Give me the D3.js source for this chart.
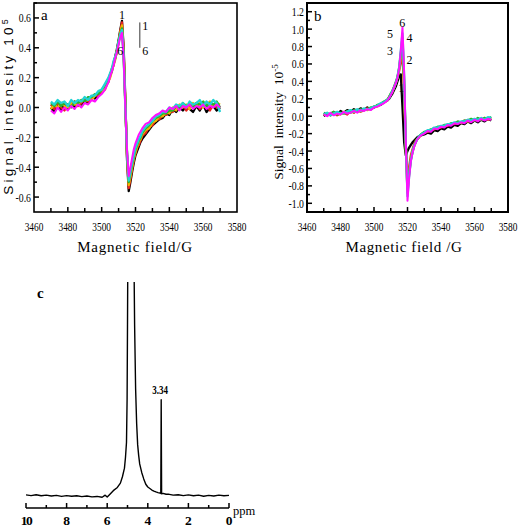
<!DOCTYPE html>
<html><head><meta charset="utf-8">
<script src="https://cdn.jsdelivr.net/npm/d3@7"></script>
<style>body{margin:0;background:#fff}svg{display:block}</style>
</head><body>
<script>
// ---------- DATA ----------
const seriesNames = ["1","2","3","4","5","6"];
const seriesColors = ["#000000","#e8231e","#f0b400","#2bb02b","#22d3d3","#ff10ff"];

const fieldsA = [3470,3472,3474,3476,3478,3480,3482,3484,3486,3488,3490,3492,3494,3496,3498,3500,3502,3504,
 3505,3506,3507,3508,3509,3510,3511,3512,3513,3514,3515,3516,3517,3518,3519,3520,3521,3522,3523,3524,
 3526,3528,3530,3532,3534,3536,3538,3540,3542,3544,3546,3548,3550,3552,3554,3556,3558,3560,3562,3564,3566,3568,3570];
const a1 = [0.00,-0.03,0.01,-0.02,0.02,-0.01,0.03,0.00,0.04,0.02,0.05,0.03,0.07,0.06,0.09,0.10,0.13,0.18,
 0.22,0.25,0.29,0.34,0.39,0.45,0.52,0.58,0.40,0.05,-0.35,-0.56,-0.50,-0.43,-0.37,-0.32,-0.29,-0.26,-0.23,-0.21,
 -0.18,-0.15,-0.12,-0.10,-0.08,-0.07,-0.04,-0.05,-0.01,-0.03,0.00,-0.02,0.01,-0.01,-0.03,0.01,-0.02,0.02,-0.03,0.00,0.01,-0.02,0.00];
const a2 = [0.02,-0.01,0.03,0.00,-0.02,0.02,0.01,0.04,0.01,0.03,0.06,0.04,0.06,0.08,0.08,0.11,0.14,0.17,
 0.21,0.26,0.28,0.33,0.38,0.44,0.51,0.57,0.38,0.03,-0.33,-0.54,-0.48,-0.41,-0.35,-0.31,-0.27,-0.25,-0.22,-0.19,
 -0.17,-0.13,-0.12,-0.08,-0.08,-0.05,-0.05,-0.02,-0.03,0.01,-0.01,0.02,-0.02,0.01,0.00,0.03,-0.01,0.01,0.02,-0.02,0.02,0.00,0.01];
const a3 = [-0.01,0.02,0.00,0.03,0.01,0.00,0.03,0.02,0.02,0.05,0.04,0.06,0.05,0.08,0.10,0.11,0.12,0.18,
 0.20,0.24,0.29,0.32,0.38,0.43,0.50,0.55,0.36,0.02,-0.32,-0.52,-0.46,-0.40,-0.34,-0.30,-0.26,-0.23,-0.21,-0.18,
 -0.15,-0.14,-0.10,-0.09,-0.06,-0.06,-0.03,-0.04,0.00,-0.02,0.02,0.00,0.02,-0.01,0.03,0.01,0.03,0.00,0.02,0.04,0.01,0.03,0.02];
const a4 = [0.03,0.01,0.04,0.01,0.03,0.02,0.00,0.04,0.03,0.05,0.04,0.07,0.07,0.09,0.09,0.12,0.15,0.19,
 0.22,0.24,0.30,0.33,0.37,0.44,0.49,0.53,0.35,0.01,-0.31,-0.50,-0.44,-0.38,-0.33,-0.28,-0.25,-0.22,-0.20,-0.17,
 -0.14,-0.12,-0.09,-0.07,-0.06,-0.04,-0.04,-0.02,-0.02,0.01,0.00,0.03,0.01,0.02,0.00,0.03,0.02,0.04,0.01,0.03,0.02,0.04,0.00];
const a5 = [0.04,0.02,0.05,0.03,0.04,0.01,0.05,0.03,0.05,0.04,0.07,0.05,0.08,0.08,0.11,0.12,0.16,0.20,
 0.23,0.26,0.31,0.34,0.38,0.44,0.49,0.52,0.34,0.00,-0.30,-0.49,-0.43,-0.37,-0.32,-0.27,-0.24,-0.21,-0.19,-0.16,
 -0.13,-0.11,-0.09,-0.06,-0.05,-0.03,-0.03,0.00,-0.01,0.02,0.01,0.03,0.00,0.04,0.02,0.03,0.05,0.01,0.04,0.02,0.05,0.03,-0.03];
const a6 = [-0.02,-0.04,0.00,-0.03,0.00,-0.02,0.01,-0.01,0.02,0.00,0.03,0.02,0.05,0.04,0.07,0.09,0.12,0.17,
 0.21,0.24,0.28,0.33,0.37,0.42,0.47,0.50,0.33,0.00,-0.29,-0.46,-0.40,-0.34,-0.28,-0.24,-0.21,-0.18,-0.16,-0.14,
 -0.11,-0.10,-0.07,-0.05,-0.04,-0.02,-0.03,0.00,-0.01,0.01,-0.02,0.01,0.00,0.02,-0.01,0.01,0.00,0.02,-0.01,0.01,0.00,0.02,0.00];

const fieldsB = [3470,3472,3474,3476,3478,3480,3482,3484,3486,3488,3490,3492,3494,3496,3498,3500,3502,3504,3506,3508,
 3509,3510,3511,3512,3513,3514,3515,3516,3517,3518,3519,3520,3521,3522,3523,3524,3525,3526,3527,3528,
 3530,3532,3534,3536,3538,3540,3542,3544,3546,3548,3550,3552,3554,3556,3558,3560,3562,3564,3566,3568,3570];
const b1 = [0.00,0.03,0.01,0.05,0.02,0.06,0.04,0.07,0.05,0.08,0.06,0.09,0.07,0.10,0.08,0.11,0.12,0.13,0.16,0.18,
 0.20,0.23,0.26,0.30,0.34,0.40,0.46,0.48,0.10,-0.30,-0.45,-0.40,-0.36,-0.33,-0.30,-0.28,-0.26,-0.24,-0.23,-0.22,
 -0.21,-0.19,-0.20,-0.16,-0.17,-0.14,-0.15,-0.12,-0.13,-0.10,-0.11,-0.08,-0.09,-0.06,-0.08,-0.05,-0.07,-0.04,-0.06,-0.03,-0.05];
const b2 = [0.03,0.01,0.02,0.04,0.01,0.03,0.04,0.02,0.06,0.04,0.07,0.05,0.07,0.09,0.08,0.10,0.12,0.14,0.16,0.19,
 0.22,0.25,0.29,0.33,0.38,0.44,0.52,0.62,0.70,0.30,-0.35,-0.75,-0.58,-0.45,-0.38,-0.32,-0.28,-0.26,-0.24,-0.21,
 -0.19,-0.18,-0.16,-0.15,-0.13,-0.13,-0.11,-0.11,-0.09,-0.09,-0.07,-0.08,-0.05,-0.06,-0.04,-0.05,-0.03,-0.04,-0.02,-0.04,-0.03];
const b3 = [0.01,0.03,0.02,0.03,0.04,0.02,0.05,0.04,0.05,0.05,0.06,0.06,0.08,0.07,0.09,0.11,0.11,0.14,0.16,0.18,
 0.22,0.25,0.28,0.33,0.38,0.44,0.54,0.68,0.80,0.35,-0.35,-0.85,-0.64,-0.49,-0.40,-0.34,-0.29,-0.26,-0.24,-0.21,
 -0.19,-0.17,-0.16,-0.14,-0.13,-0.12,-0.11,-0.10,-0.09,-0.08,-0.08,-0.07,-0.06,-0.06,-0.05,-0.04,-0.05,-0.03,-0.04,-0.02,-0.03];
const b4 = [0.04,0.02,0.03,0.05,0.02,0.04,0.03,0.06,0.04,0.07,0.05,0.08,0.07,0.08,0.10,0.10,0.13,0.14,0.17,0.19,
 0.22,0.26,0.29,0.34,0.39,0.45,0.55,0.72,0.90,0.40,-0.33,-0.88,-0.66,-0.50,-0.41,-0.34,-0.29,-0.26,-0.23,-0.21,
 -0.18,-0.17,-0.15,-0.14,-0.12,-0.12,-0.10,-0.10,-0.08,-0.08,-0.06,-0.07,-0.05,-0.05,-0.03,-0.05,-0.02,-0.04,-0.02,-0.03,-0.01];
const b5 = [0.02,0.04,0.01,0.03,0.05,0.03,0.04,0.05,0.07,0.05,0.08,0.06,0.09,0.08,0.09,0.11,0.12,0.15,0.16,0.19,
 0.21,0.25,0.29,0.33,0.38,0.45,0.56,0.75,0.95,0.45,-0.32,-0.92,-0.68,-0.51,-0.41,-0.34,-0.30,-0.26,-0.23,-0.21,
 -0.19,-0.16,-0.16,-0.13,-0.13,-0.11,-0.11,-0.09,-0.09,-0.07,-0.08,-0.06,-0.06,-0.04,-0.05,-0.03,-0.04,-0.02,-0.04,-0.01,-0.02];
const b6 = [0.02,0.00,0.04,0.01,0.03,0.02,0.05,0.03,0.04,0.06,0.04,0.07,0.06,0.08,0.07,0.10,0.11,0.13,0.15,0.18,
 0.21,0.24,0.28,0.33,0.38,0.44,0.55,0.75,1.02,0.50,-0.30,-0.97,-0.70,-0.52,-0.42,-0.35,-0.30,-0.26,-0.24,-0.22,
 -0.20,-0.17,-0.18,-0.14,-0.15,-0.12,-0.13,-0.10,-0.11,-0.08,-0.09,-0.07,-0.08,-0.05,-0.07,-0.04,-0.06,-0.03,-0.05,-0.03,-0.04];

const xTicksEPR = [3460,3480,3500,3520,3540,3560,3580];
const yTicksA = [-0.6,-0.4,-0.2,0.0,0.2,0.4,0.6];
const yTicksB = [-1.0,-0.8,-0.6,-0.4,-0.2,0.0,0.2,0.4,0.6,0.8,1.0,1.2];

const nmrPpm = [10.0,9.75,9.5,9.25,9.0,8.75,8.5,8.25,8.0,7.75,7.5,7.25,7.0,6.75,6.5,6.25,6.1,6.0,5.9,5.7,5.5,5.35,5.25,5.15,5.1,5.05,5.02,5.0,4.98,
 4.9,4.8,4.72,4.68,4.65,4.6,4.55,4.5,4.45,4.4,4.3,4.2,4.1,4.0,3.9,3.8,3.7,3.6,3.5,3.4,3.36,3.34,3.32,3.25,3.1,3.0,2.75,2.5,2.25,2.0,1.75,1.5,1.25,1.0,0.75,0.5,0.25,0.0];
const nmrInt = [0.5,0.2,0.6,0.1,0.4,0.0,0.3,-0.2,0.2,-0.1,0.1,-0.3,0.0,-0.4,-0.2,-0.6,0.4,-0.5,0.5,2.5,4,6,9,13,18,25,45,80,120,
 300,320,200,110,80,50,34,24,19,15,11,8,5.5,4.2,3.5,2.8,2.3,1.9,1.6,1.4,1.2,45,1.0,1.2,0.8,0.9,0.4,0.6,0.2,0.5,0.1,0.4,-0.1,0.3,0.0,0.4,0.1,0.3];
const nmrTicks = [10,8,6,4,2,0];

// ---------- DRAW ----------
const svg = d3.select("body").append("svg").attr("width",520).attr("height",527);
const serif = "'Liberation Serif', 'Times New Roman', serif";
const fmt = v => v.toFixed(1);

function squeezed(g, x, y, txt, anchor, sx){
  g.append("text").attr("transform",`translate(${x},${y}) scale(${sx},1)`).attr("text-anchor",anchor)
    .attr("font-family",serif).attr("font-size",13).text(txt);
}

function eprPanel(opt){
  const g = svg.append("g");
  const x = d3.scaleLinear().domain([3460,3580]).range([opt.x0,opt.x1]);
  const y = d3.scaleLinear().domain(opt.yDom).range([opt.y1,opt.y0]);
  const cid = "clip"+opt.id;
  svg.append("clipPath").attr("id",cid).append("rect")
    .attr("x",opt.x0).attr("y",opt.y0).attr("width",opt.x1-opt.x0).attr("height",opt.y1-opt.y0);
  const line = d3.line().x(d=>x(d[0])).y(d=>y(d[1]));
  const lg = g.append("g").attr("clip-path","url(#"+cid+")");
  opt.series.forEach((s,i)=>{
    lg.append("path").datum(opt.fields.map((f,j)=>[f,s[j]]))
      .attr("d",line).attr("fill","none").attr("stroke",seriesColors[i])
      .attr("stroke-width",i===5?2.0:2.3).attr("stroke-linejoin","round");
  });
  g.append("rect").attr("x",opt.x0).attr("y",opt.y0).attr("width",opt.x1-opt.x0).attr("height",opt.y1-opt.y0)
    .attr("fill","none").attr("stroke","#000").attr("stroke-width",opt.fw);
  d3.range(3470,3580,10).forEach(v=>{
    const major = xTicksEPR.includes(v);
    g.append("line").attr("x1",x(v)).attr("x2",x(v)).attr("y1",opt.y1).attr("y2",opt.y1-(major?5:4))
      .attr("stroke","#000").attr("stroke-width",1.5);
  });
  xTicksEPR.forEach(v=>squeezed(g, x(v), opt.y1+19, String(v), "middle", 0.72));
  const yt = opt.yTicks;
  const minor = [];
  for(let k=0;k<yt.length-1;k++) minor.push((yt[k]+yt[k+1])/2);
  minor.push(yt[yt.length-1]+0.1);
  minor.forEach(v=>{
    if(v<opt.yDom[0]||v>opt.yDom[1]) return;
    g.append("line").attr("x1",opt.x0).attr("x2",opt.x0+3).attr("y1",y(v)).attr("y2",y(v)).attr("stroke","#000").attr("stroke-width",1.5);
  });
  yt.forEach(v=>{
    g.append("line").attr("x1",opt.x0).attr("x2",opt.x0+5).attr("y1",y(v)).attr("y2",y(v)).attr("stroke","#000").attr("stroke-width",1.5);
    squeezed(g, opt.x0-3, y(v)+4.5, fmt(v), "end", 0.75);
  });
  return {g,x,y};
}

// Panel a
const pa = eprPanel({id:"a",x0:34,x1:237,y0:3,y1:212,yDom:[-0.7,0.7],yTicks:yTicksA,fields:fieldsA,series:[a1,a2,a3,a4,a5,a6],fw:1.6});
pa.g.append("text").attr("x",41).attr("y",20).attr("font-family",serif).attr("font-size",15).text("a");
pa.g.append("text").attr("x",pa.x(3512)).attr("y",pa.y(0.59)).attr("text-anchor","middle").attr("font-family",serif).attr("font-size",12).text(seriesNames[0]);
pa.g.append("text").attr("x",pa.x(3511)).attr("y",pa.y(0.35)).attr("text-anchor","middle").attr("font-family",serif).attr("font-size",12).text(seriesNames[5]);
pa.g.append("line").attr("x1",pa.x(3522.5)).attr("x2",pa.x(3522.5)).attr("y1",pa.y(0.57)).attr("y2",pa.y(0.40)).attr("stroke","#777").attr("stroke-width",1.5);
pa.g.append("text").attr("x",pa.x(3524)).attr("y",pa.y(0.52)).attr("font-family",serif).attr("font-size",12).text(seriesNames[0]);
pa.g.append("text").attr("x",pa.x(3524)).attr("y",pa.y(0.35)).attr("font-family",serif).attr("font-size",12).text(seriesNames[5]);
pa.g.append("text").attr("x",135).attr("y",252).attr("text-anchor","middle").attr("font-family",serif)
  .attr("font-size",15).attr("letter-spacing",0.8).text("Magnetic field/G");
const ta = pa.g.append("text").attr("transform","translate(13,107) rotate(-90)").attr("text-anchor","middle")
  .attr("font-family","'Liberation Sans', Arial, sans-serif").attr("font-size",13.5).attr("letter-spacing",3.2);
ta.append("tspan").text("Signal intensity 10");
ta.append("tspan").attr("dy",-5).attr("font-size",9).attr("letter-spacing",0).text("5");

// Panel b
const pb = eprPanel({id:"b",x0:307,x1:508,y0:3,y1:212,yDom:[-1.1,1.3],yTicks:yTicksB,fields:fieldsB,series:[b1,b2,b3,b4,b5,b6],fw:2});
pb.g.append("text").attr("x",314).attr("y",21).attr("font-family",serif).attr("font-size",15).text("b");
const bl = [[3516.8,1.03,"6"],[3509.5,0.90,"5"],[3521.2,0.85,"4"],[3509.5,0.70,"3"],[3521.2,0.60,"2"],[3516.2,0.28,"1"]];
bl.forEach(d=>{
  pb.g.append("text").attr("x",pb.x(d[0])).attr("y",pb.y(d[1])).attr("text-anchor","middle")
    .attr("font-family",serif).attr("font-size",12).text(d[2]);
});
pb.g.append("text").attr("x",404).attr("y",252).attr("text-anchor","middle").attr("font-family",serif)
  .attr("font-size",15).attr("letter-spacing",0.6).text("Magnetic field /G");
const tb = pb.g.append("text").attr("transform","translate(283,122) rotate(-90)").attr("text-anchor","middle")
  .attr("font-family",serif).attr("font-size",13.5).attr("xml:space","preserve");
tb.append("tspan").text("Signal  intensity  10");
tb.append("tspan").attr("dy",-5).attr("font-size",9).text("-5");

// Panel c
const xc = d3.scaleLinear().domain([10,0]).range([26,229]);
const yc = d3.scaleLinear().domain([0,100]).range([496,282]);
svg.append("clipPath").attr("id","clipc").append("rect").attr("x",20).attr("y",282).attr("width",215).attr("height",225);
svg.append("path").datum(nmrPpm.map((p,i)=>[p,nmrInt[i]]))
  .attr("clip-path","url(#clipc)")
  .attr("d",d3.line().x(d=>xc(d[0])).y(d=>yc(d[1])))
  .attr("fill","none").attr("stroke","#000").attr("stroke-width",1.4).attr("stroke-linejoin","round");
svg.append("line").attr("x1",xc(10)).attr("x2",xc(0)).attr("y1",508).attr("y2",508).attr("stroke","#000").attr("stroke-width",1.5);
d3.range(0,11,1).forEach(v=>{
  const major = nmrTicks.includes(v);
  svg.append("line").attr("x1",xc(v)).attr("x2",xc(v)).attr("y1",508).attr("y2",508-(major?5:3)).attr("stroke","#000").attr("stroke-width",1.5);
});
nmrTicks.forEach(v=>{
  svg.append("text").attr("x",xc(v)).attr("y",525).attr("text-anchor","middle").attr("font-family",serif)
    .attr("font-weight","bold").attr("font-size",13.5).attr("letter-spacing",v===10?-1.5:0).text(v);
});
svg.append("text").attr("x",233).attr("y",515).attr("font-family",serif).attr("font-size",12.5).text("ppm");
svg.append("text").attr("x",37).attr("y",298).attr("font-family",serif).attr("font-weight","bold").attr("font-size",15).text("c");
svg.append("text").attr("transform",`translate(${xc(3.34)-1},394) scale(0.75,1)`).attr("text-anchor","middle").attr("font-family",serif)
  .attr("font-weight","bold").attr("font-size",12).text("3.34");
</script>
</body></html>
